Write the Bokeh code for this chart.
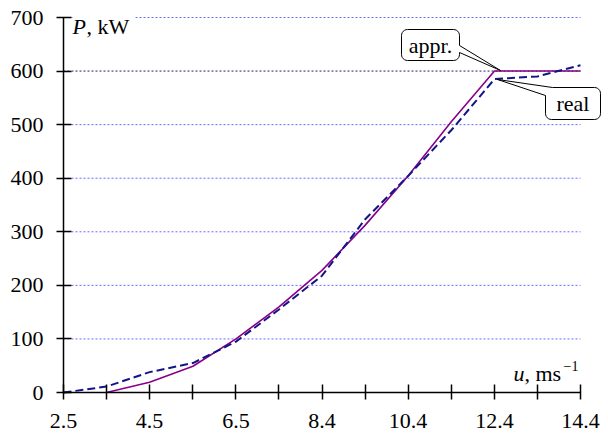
import numpy as np
from bokeh.plotting import figure
from bokeh.models import FixedTicker, Label, PolyAnnotation, PrintfTickFormatter, Range1d
from bokeh.embed import file_html
from bokeh.resources import INLINE

# ---- data ----
wind_speed_real = [2.5, 3.49, 4.48, 5.48, 6.47, 7.46, 8.45, 9.44, 10.43, 11.43, 12.42, 13.41, 14.4]
power_real = [0, 11, 38, 55, 95, 155, 218, 323, 404, 490, 585, 590, 611]

wind_speed_appr = [3.49, 4.48, 5.48, 6.47, 7.46, 8.45, 9.44, 10.43, 11.43, 12.42, 13.41, 14.4]
power_appr = [0, 19, 49, 100, 160, 228, 312, 404, 506, 600, 600, 600]

x_ticks = [2.5, 3.49, 4.48, 5.48, 6.47, 7.46, 8.45, 9.44, 10.43, 11.43, 12.42, 13.41, 14.4]
x_tick_labels = ["2.5", "", "4.5", "", "6.5", "", "8.4", "", "10.4", "", "12.4", "", "14.4"]
y_ticks = [0, 100, 200, 300, 400, 500, 600, 700]
grid_light = [100, 200, 300, 400, 500, 700]
grid_dark = [600]

X0, X1 = 2.5, 14.4
Y0, Y1 = 0, 700

# page-pixel placement of the axes; the frame covers the whole figure
W, H = 608, 433
FL, FR, FT, FB = 63, 580, 17, 392

def px2x(px):
    return X0 + (px - FL) / (FR - FL) * (X1 - X0)

def py2y(py):
    return Y0 + (FB - py) / (FB - FT) * (Y1 - Y0)

SERIF = "Liberation Serif"
FS = "22px"

p = figure(width=W, height=H, x_range=Range1d(px2x(0), px2x(W)), y_range=Range1d(py2y(H), py2y(0)),
           output_backend="svg", toolbar_location=None,
           min_border_left=0, min_border_right=0, min_border_top=0, min_border_bottom=0,
           background_fill_color="white", border_fill_color="white",
           outline_line_color=None)

p.xgrid.visible = False
p.ygrid.visible = False

# horizontal grid lines, spanning the axis extent only
p.segment(x0=[X0] * len(grid_light), y0=grid_light, x1=[X1] * len(grid_light), y1=grid_light,
          line_color="#6a6aff", line_dash="2 2", line_width=1)
p.segment(x0=[X0] * len(grid_dark), y0=grid_dark, x1=[X1] * len(grid_dark), y1=grid_dark,
          line_color="#22226e", line_dash="2 2", line_width=1)

# axes (placed at data locations inside the full-size frame)
major = x_ticks[::2]
minor = x_ticks[1::2]
xa = p.xaxis[0]
xa.fixed_location = Y0
xa.bounds = (X0, X1)
xa.ticker = FixedTicker(ticks=major, minor_ticks=minor)
xa.formatter = PrintfTickFormatter(format="%.1f")
xa.major_label_overrides = {t: lab for t, lab in zip(x_ticks, x_tick_labels) if lab}
ya = p.yaxis[0]
ya.fixed_location = X0
ya.bounds = (Y0, Y1)
ya.ticker = FixedTicker(ticks=y_ticks)
for ax in (xa, ya):
    ax.axis_line_color = "black"
    ax.axis_line_width = 1.5
    ax.major_tick_line_color = "black"
    ax.major_tick_line_width = 1.5
    ax.minor_tick_line_color = "black"
    ax.minor_tick_line_width = 1.5
    ax.major_tick_in = 8
    ax.major_tick_out = 7
    ax.minor_tick_in = 8
    ax.minor_tick_out = 7
    ax.major_label_text_font = SERIF
    ax.major_label_text_font_size = FS
    ax.major_label_text_color = "black"
xa.major_label_standoff = 14
ya.major_label_standoff = 13

# series
p.line(wind_speed_appr, power_appr, line_color="#880088", line_width=1.6)
p.line(wind_speed_real, power_real, line_color="#14148a", line_width=2, line_dash="8 4")

# axis titles
common = dict(text_font=SERIF, text_font_size=FS, text_color="black", text_baseline="alphabetic")
p.add_layout(Label(x=X0, y=Y1, x_offset=17, y_offset=-9, text=", kW",
                   background_fill_color="white", padding=6, **common))
p.add_layout(Label(x=X0, y=Y1, x_offset=9, y_offset=-9, text="P", text_font_style="italic",
                   background_fill_color="white", **common))

p.add_layout(Label(x=X1, y=Y0, x_offset=-67, y_offset=19, text="u", text_font_style="italic", **common))
p.add_layout(Label(x=X1, y=Y0, x_offset=-56, y_offset=19, text=", ms", **common))
p.add_layout(Label(x=X1, y=Y0, x_offset=-17, y_offset=27, text="\u22121",
                   text_font=SERIF, text_font_size="14px", text_color="black",
                   text_baseline="alphabetic"))

# callouts
def rounded_rect(x0, y0, x1, y1, r, n=7):
    pts = []
    for cx, cy, a0 in [(x1 - r, y0 + r, -90), (x1 - r, y1 - r, 0), (x0 + r, y1 - r, 90), (x0 + r, y0 + r, 180)]:
        for t in np.radians(np.linspace(a0, a0 + 90, n)):
            pts.append((cx + r * np.cos(t), cy + r * np.sin(t)))
    return pts

n = 7
bx = rounded_rect(401, 29, 459, 60, 6, n)
appr_pts = bx[:n] + [(459, 45), (500, 70), (459, 52)] + bx[n:]
bx2 = rounded_rect(545, 87, 600, 119, 6, n)
real_pts = bx2[:3 * n] + [(545, 95), (497, 79), (552, 87)]

for pts in (appr_pts, real_pts):
    xs = [px2x(a) for a, b in pts]
    ys = [py2y(b) for a, b in pts]
    p.add_layout(PolyAnnotation(xs=xs, ys=ys, fill_color="white", fill_alpha=1.0,
                                line_color="black", line_width=1, line_alpha=1.0))

p.add_layout(Label(x=px2x(430), y=py2y(44.5), text="appr.", text_align="center",
                   text_font=SERIF, text_font_size=FS, text_color="black", text_baseline="middle"))
p.add_layout(Label(x=px2x(572.5), y=py2y(103), text="real", text_align="center",
                   text_font=SERIF, text_font_size=FS, text_color="black", text_baseline="middle"))

open("out.html", "w").write(file_html(p, INLINE))
